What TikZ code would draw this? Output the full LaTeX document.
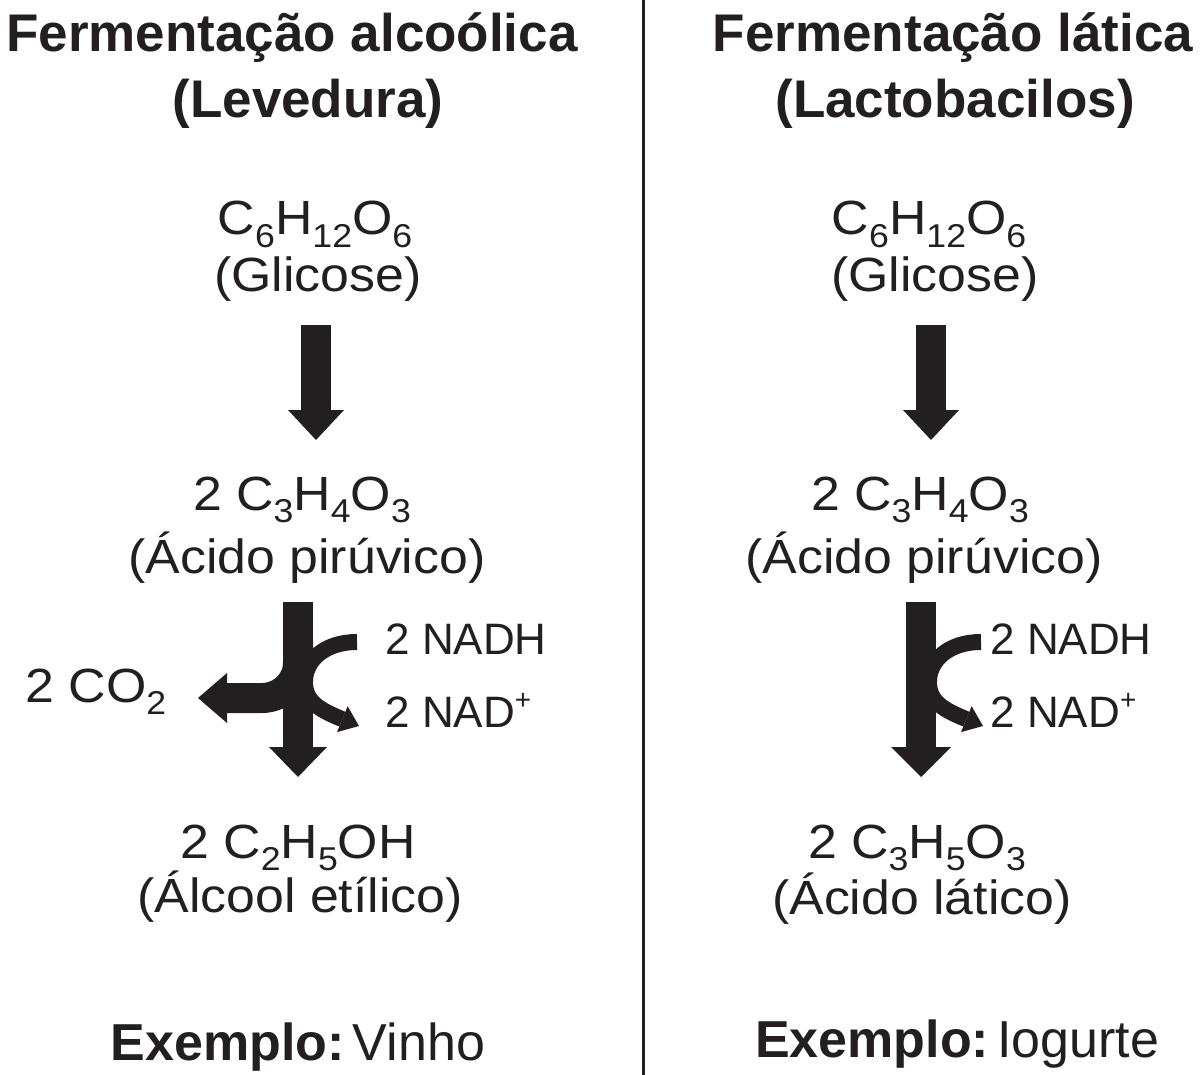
\documentclass[tikz,border=0pt]{standalone}
\usepackage{fontspec}
\setmainfont{Liberation Sans}
\newfontfamily\bodyfont[FakeStretch=1.08]{Liberation Sans}
\usetikzlibrary{arrows.meta}

\definecolor{ink}{HTML}{231F20}

% subscript / superscript for the formulas
\newcommand{\sbs}[1]{\raisebox{-6pt}{\fontsize{16.5}{16.5}\selectfont #1}}
\newcommand{\sps}[1]{\raisebox{9pt}{\fontsize{14}{14}\selectfont #1}}

\begin{document}
\begin{tikzpicture}[
      x=0.5pt, y=-0.5pt,
      % Define styles for the elements
      every node/.style={inner sep=0pt, text=ink},
      title/.style={
          anchor=base,
          font=\fontsize{26.5}{30}\selectfont\bfseries
        },
      chem/.style={
          anchor=base,
          font=\bodyfont\fontsize{24}{28}\selectfont
        },
      side/.style={
          anchor=base west,
          font=\fontsize{22}{26}\selectfont
        },
      example/.style={
          anchor=base,
          font=\fontsize{26}{30}\selectfont
        },
      fat/.style={
          draw=ink,
          line width=15pt
        },
      thin/.style={
          draw=ink,
          line width=8pt
        },
      bighead/.style={
          -{Triangle[width=28pt,length=15pt,line width=0pt]}
        },
      sidehead/.style={
          -{Triangle[width=25pt,length=14.5pt,line width=0pt]}
        },
      smallhead/.style={
          -{Triangle[width=14pt,length=9pt,line width=0pt]}
        }
    ]
    \useasboundingbox (0,0) rectangle (1200,1075);

    % Divider
    \coordinate (divT) at (643,0);
    \coordinate (divB) at (643,1075);
    \draw[ink, line width=1.5pt] (divT) -- (divB);

    % Left: alcoholic fermentation
    \node[title] (ttlL1) at (292,52) {Fermentação alcoólica};
    \node[title] (ttlL2) at (308,118) {(Levedura)};

    \node[chem] (glcL) at (315,235) {C\sbs{6}H\sbs{12}O\sbs{6}};
    \node[chem] (glcLn) at (318,292) {(Glicose)};

    \node[chem] (pirL) at (302,510) {2 C\sbs{3}H\sbs{4}O\sbs{3}};
    \node[chem] (pirLn) at (307,573) {(Ácido pirúvico)};

    \node[chem, anchor=base west] (co2) at (25,702) {2 CO\sbs{2}};
    \node[side] (nadhL) at (385,654) {2 NADH};
    \node[side] (nadL) at (385,727) {2 NAD\sps{+}};

    \node[chem] (etoL) at (298,858) {2 C\sbs{2}H\sbs{5}OH};
    \node[chem] (etoLn) at (300,912) {(Álcool etílico)};

    \node[example] (exL) at (298,1060) {\textbf{Exemplo:}\hspace{4pt}Vinho};

    % Right: lactic fermentation
    \node[title] (ttlR1) at (953,52) {Fermentação lática};
    \node[title] (ttlR2) at (955,118) {(Lactobacilos)};

    \node[chem] (glcR) at (929,235) {C\sbs{6}H\sbs{12}O\sbs{6}};
    \node[chem] (glcRn) at (935,292) {(Glicose)};

    \node[chem] (pirR) at (920,510) {2 C\sbs{3}H\sbs{4}O\sbs{3}};
    \node[chem] (pirRn) at (924,573) {(Ácido pirúvico)};

    \node[side] (nadhR) at (990,654) {2 NADH};
    \node[side] (nadR) at (990,727) {2 NAD\sps{+}};

    \node[chem] (latR) at (917,858) {2 C\sbs{3}H\sbs{5}O\sbs{3}};
    \node[chem] (latRn) at (922,914) {(Ácido lático)};

    \node[example] (exR) at (957,1057) {\textbf{Exemplo:}\hspace{4pt}Iogurte};

    % Arrow ends
    \coordinate (a1L) at (316,325);
    \coordinate (b1L) at (316,440);
    \coordinate (a2L) at (298,602);
    \coordinate (b2L) at (298,777);
    \coordinate (brL) at (298,640);
    \coordinate (co2tip) at (198,698);
    \coordinate (nhL) at (357,642);
    \coordinate (ndL) at (359,726);

    \coordinate (a1R) at (931,325);
    \coordinate (b1R) at (931,440);
    \coordinate (a2R) at (921,602);
    \coordinate (b2R) at (921,777);
    \coordinate (nhR) at (981,642);
    \coordinate (ndR) at (983,726);

    % Draw the arrows
    \draw[fat, bighead] (a1L) -- (b1L);
    \draw[fat, -{Triangle[width=29pt,length=15pt,line width=0pt]}] (a2L) -- (b2L);
    \draw[fat, sidehead] (brL) -- ++(0,23)
      .. controls +(0,19.3) and +(19.3,0) .. ++(-36,35) -- (co2tip);
    \draw[thin, smallhead] (nhL) .. controls (325,642) and (305,660) .. (305,682)
      .. controls (305,702) and (320,710) .. (ndL);

    \draw[fat, bighead] (a1R) -- (b1R);
    \draw[fat, -{Triangle[width=30pt,length=15pt,line width=0pt]}] (a2R) -- (b2R);
    \draw[thin, smallhead] (nhR) .. controls (949,642) and (929,660) .. (929,682)
      .. controls (929,702) and (944,710) .. (ndR);

  \end{tikzpicture}
\end{document}
